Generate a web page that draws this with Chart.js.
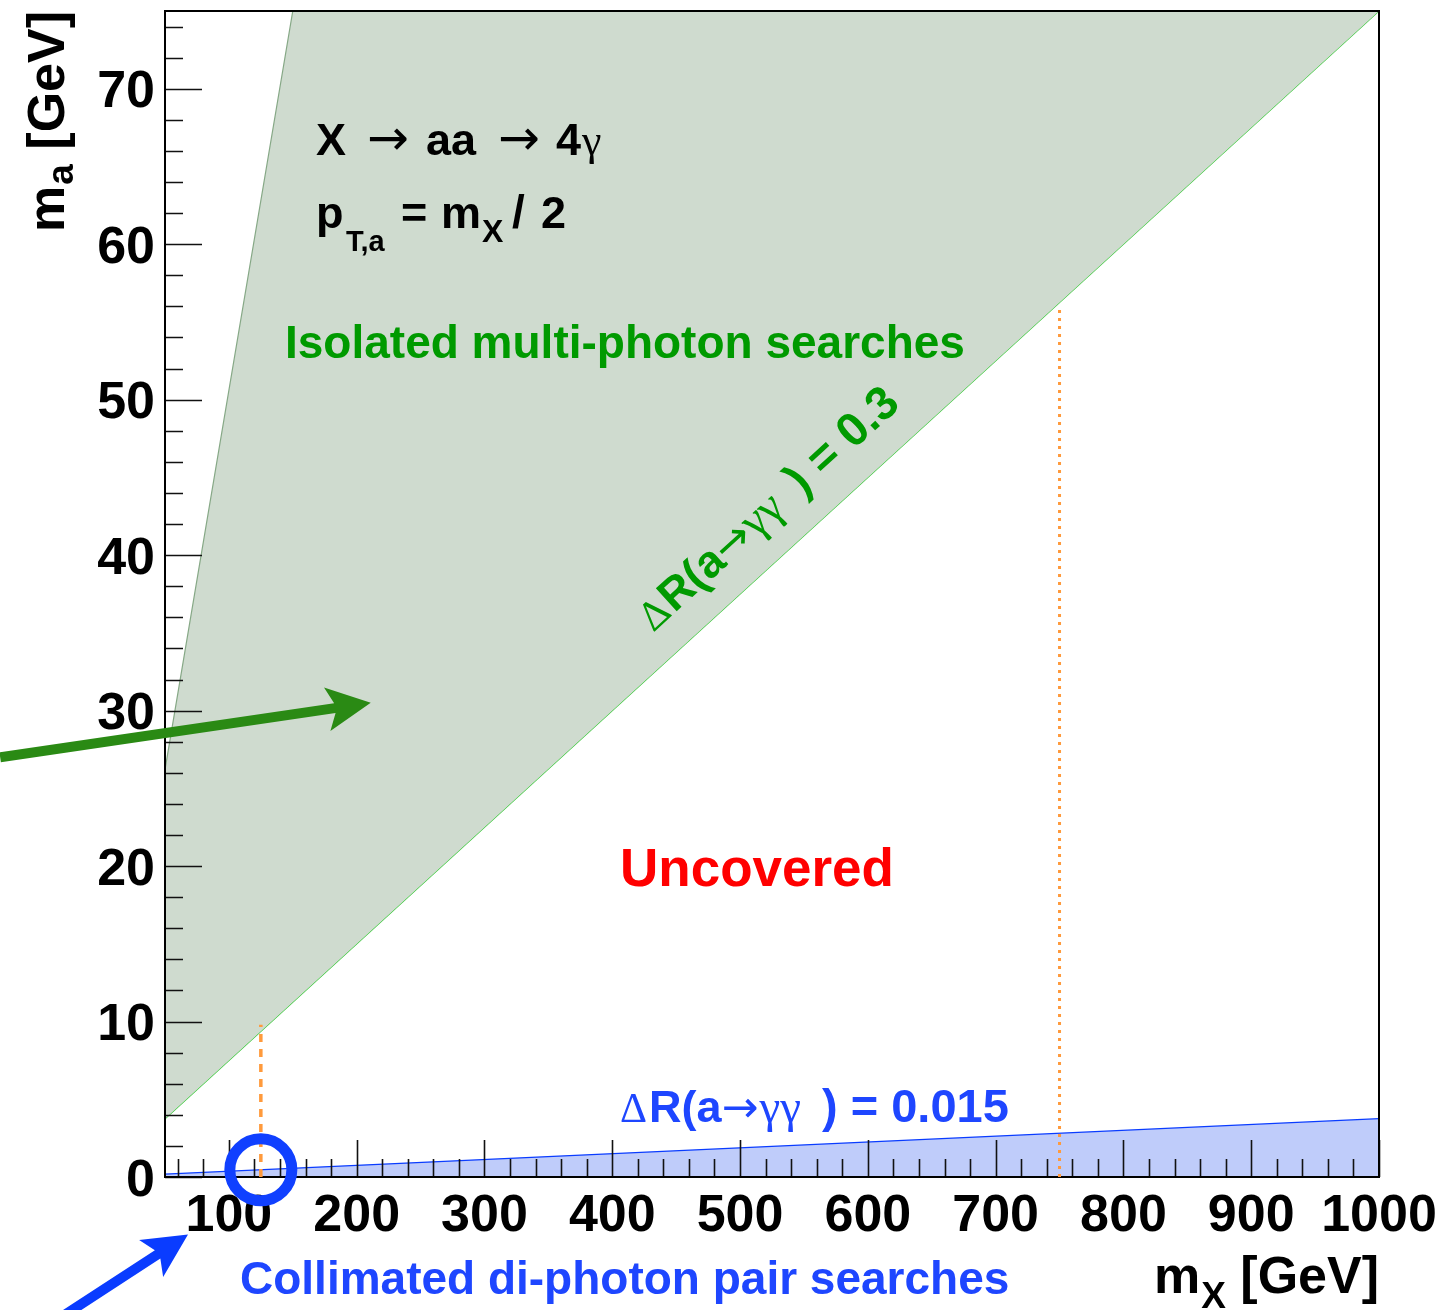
<!DOCTYPE html>
<html>
<head>
<meta charset="utf-8">
<title>X → aa → 4γ coverage</title>
<script src="https://cdn.jsdelivr.net/npm/chart.js@4/dist/chart.umd.min.js"></script>
<style>
  html, body { margin: 0; padding: 0; background: #fff; }
  canvas { display: block; }
</style>
</head>
<body>
<canvas id="c" width="1455" height="1310"></canvas>
<script>
// Axis ranges (m_X and m_a in GeV)
const mxRange = [50, 1000];
const maRange = [0, 75];

// Tick labels
const xTickLabels = ['100', '200', '300', '400', '500', '600', '700', '800', '900', '1000'];
const yTickLabels = ['0', '10', '20', '30', '40', '50', '60', '70'];

// ΔR(a→γγ) = 0.3 boundary
const wideMx = [50, 1000];
const wideMa = [3.75, 75];

// ΔR(a→γγ) = 0.015 boundary
const narrowMx = [50, 1000];
const narrowMa = [0.19, 3.75];

// Kinematic edge of the isolated region (upper left)
const edgeMx = [50, 150, 1000];
const edgeMa = [26.2, 75, 75];

// Reference masses marked with dotted lines
const refMx = [125, 750];
const refMaTop = [9.8, 55.9];

// Highlighted point near the 125 GeV resonance
const ringMx = [125];
const ringMa = [0.47];

// Pointer arrows (tail, head)
const greenArrowMx = [-79, 211];
const greenArrowMa = [27.0, 30.5];
const blueArrowMx = [-44, 68];
const blueArrowMa = [-9.7, -3.7];

const pts = (xs, ys) => xs.map((x, i) => ({ x, y: ys[i] }));

const BOLD = 'bold {s}px "Liberation Sans", Arial, Helvetica, sans-serif';
const ARROW = '{s}px "DejaVu Sans", sans-serif';
const SERIF = '{s}px "Liberation Serif", "Times New Roman", serif';
const f = (tpl, s) => tpl.replace('{s}', s);

const GREEN_TXT = '#009a00';
const BLUE_TXT = '#1e46ff';

// Draw a list of text pieces one after another along the baseline
function runWidth(ctx, runs) {
  let w = 0;
  for (const r of runs) { ctx.font = r.font; w += (r.pre || 0) + ctx.measureText(r.t).width; }
  return w;
}
function drawRuns(ctx, x, y, runs, color) {
  ctx.fillStyle = color;
  ctx.textBaseline = 'alphabetic';
  ctx.textAlign = 'left';
  let cx = x;
  for (const r of runs) {
    ctx.font = r.font;
    cx += r.pre || 0;
    ctx.fillText(r.t, cx, y + (r.dy || 0));
    cx += ctx.measureText(r.t).width;
  }
}

function drawArrow(ctx, x0, y0, x1, y1, color) {
  const shaft = 10, headLen = 44, headHalf = 22, notch = 10;
  const L = Math.hypot(x1 - x0, y1 - y0);
  const a = Math.atan2(y1 - y0, x1 - x0);
  const nx = -headLen + notch * (1 - (shaft / 2) / headHalf);
  ctx.save();
  ctx.translate(x1, y1);
  ctx.rotate(a);
  ctx.beginPath();
  ctx.moveTo(-L, -shaft / 2);
  ctx.lineTo(nx, -shaft / 2);
  ctx.lineTo(-headLen, -headHalf);
  ctx.lineTo(0, 0);
  ctx.lineTo(-headLen, headHalf);
  ctx.lineTo(nx, shaft / 2);
  ctx.lineTo(-L, shaft / 2);
  ctx.closePath();
  ctx.fillStyle = color;
  ctx.fill();
  ctx.restore();
}

const decor = {
  id: 'decor',
  beforeDraw(chart) {
    const c = chart.ctx;
    c.save();
    c.fillStyle = '#fff';
    c.fillRect(0, 0, chart.width, chart.height);
    c.restore();
  },
  // axes (frame, ticks, labels) go on top of the filled bands, below the markers
  afterDatasetDraw(chart, args) {
    if (args.index !== 3) return;
    const c = chart.ctx;
    const xs = chart.scales.x, ys = chart.scales.y;
    const A = chart.chartArea;
    c.save();
    c.strokeStyle = '#111';
    c.lineWidth = 1.6;
    c.beginPath();
    for (let v = maRange[0]; v < maRange[1]; v += 2) {
      const y = Math.round(ys.getPixelForValue(v)) + 0.5;
      const len = v % 10 === 0 ? 37 : 18;
      c.moveTo(A.left, y);
      c.lineTo(A.left + len, y);
    }
    for (let v = 60; v <= mxRange[1]; v += 20) {
      const x = Math.round(xs.getPixelForValue(v)) + 0.5;
      const len = v % 100 === 0 ? 37 : 18;
      c.moveTo(x, A.bottom);
      c.lineTo(x, A.bottom - len);
    }
    c.stroke();
    c.lineWidth = 2;
    c.strokeStyle = '#000';
    c.strokeRect(A.left, A.top, A.right - A.left, A.bottom - A.top);

    // tick labels
    c.fillStyle = '#000';
    c.font = f(BOLD, 52);
    c.textBaseline = 'alphabetic';
    c.textAlign = 'right';
    yTickLabels.forEach(t => {
      const y = ys.getPixelForValue(Number(t));
      c.fillText(t, A.left - 10, y + 18.5);
    });
    c.textAlign = 'center';
    xTickLabels.forEach(t => {
      const x = xs.getPixelForValue(Number(t));
      c.fillText(t, x, A.bottom + 54);
    });
    c.restore();
  },
  afterDraw(chart) {
    const c = chart.ctx;
    const xs = chart.scales.x, ys = chart.scales.y;
    const A = chart.chartArea;
    c.save();

    // axis titles
    const xTitle = [
      { t: 'm', font: f(BOLD, 52) },
      { t: 'X', font: f(BOLD, 37), dy: 15, pre: 1 },
      { t: ' [GeV]', font: f(BOLD, 52) }
    ];
    drawRuns(c, A.right - runWidth(c, xTitle), 1293, xTitle, '#000');

    const yTitle = [
      { t: 'm', font: f(BOLD, 52) },
      { t: 'a', font: f(BOLD, 37), dy: 9, pre: 1 },
      { t: ' [GeV]', font: f(BOLD, 52) }
    ];
    c.save();
    c.translate(64, A.top + runWidth(c, yTitle));
    c.rotate(-Math.PI / 2);
    drawRuns(c, 0, 0, yTitle, '#000');
    c.restore();

    // process and kinematics
    drawRuns(c, 316, 155, [{ t: 'X', font: f(BOLD, 45) }], '#000');
    drawRuns(c, 367, 155, [{ t: '→', font: f(ARROW, 50) }], '#000');
    drawRuns(c, 426, 155, [{ t: 'aa', font: f(BOLD, 45) }], '#000');
    drawRuns(c, 498, 155, [{ t: '→', font: f(ARROW, 50) }], '#000');
    drawRuns(c, 556, 155, [{ t: '4', font: f(BOLD, 45) }, { t: 'γ', font: f(SERIF, 44), pre: 1 }], '#000');

    drawRuns(c, 316, 228, [{ t: 'p', font: f(BOLD, 45) }], '#000');
    drawRuns(c, 346, 251, [{ t: 'T,a', font: f(BOLD, 29) }], '#000');
    drawRuns(c, 401, 228, [{ t: '=', font: f(BOLD, 45) }], '#000');
    drawRuns(c, 441, 228, [{ t: 'm', font: f(BOLD, 45) }], '#000');
    drawRuns(c, 482, 242, [{ t: 'X', font: f(BOLD, 32) }], '#000');
    drawRuns(c, 512, 228, [{ t: '/', font: f(BOLD, 46) }], '#000');
    drawRuns(c, 541, 228, [{ t: '2', font: f(BOLD, 45) }], '#000');

    // region labels
    drawRuns(c, 285, 358, [{ t: 'Isolated multi-photon searches', font: f(BOLD, 46) }], GREEN_TXT);
    drawRuns(c, 620, 886, [{ t: 'Uncovered', font: f(BOLD, 53) }], '#ff0000');
    drawRuns(c, 240, 1294, [{ t: 'Collimated di-photon pair searches', font: f(BOLD, 46) }], BLUE_TXT);

    const drRuns = (val) => [
      { t: 'Δ', font: f(SERIF, 42) },
      { t: 'R(a', font: f(BOLD, 45), pre: 2 },
      { t: '→', font: f(ARROW, 44), pre: 0 },
      { t: 'γγ', font: f(SERIF, 47), pre: 1 },
      { t: ' ) = ' + val, font: f(BOLD, 47), pre: 8 }
    ];
    drawRuns(c, 620, 1122, drRuns('0.015'), BLUE_TXT);

    // ΔR = 0.3 label runs along its boundary line
    const px0 = xs.getPixelForValue(wideMx[0]), py0 = ys.getPixelForValue(wideMa[0]);
    const px1 = xs.getPixelForValue(wideMx[1]), py1 = ys.getPixelForValue(wideMa[1]);
    const ang = Math.atan2(py1 - py0, px1 - px0);
    c.save();
    c.translate(xs.getPixelForValue(432), ys.getPixelForValue(35.0));
    c.rotate(ang);
    drawRuns(c, 0, 0, drRuns('0.3'), GREEN_TXT);
    c.restore();

    // pointer arrows
    drawArrow(c, xs.getPixelForValue(greenArrowMx[0]), ys.getPixelForValue(greenArrowMa[0]),
      xs.getPixelForValue(greenArrowMx[1]), ys.getPixelForValue(greenArrowMa[1]), '#2a8a14');
    drawArrow(c, xs.getPixelForValue(blueArrowMx[0]), ys.getPixelForValue(blueArrowMa[0]),
      xs.getPixelForValue(blueArrowMx[1]), ys.getPixelForValue(blueArrowMa[1]), '#0a3cff');

    c.restore();
  }
};

new Chart(document.getElementById('c'), {
  type: 'scatter',
  data: {
    datasets: [
      { // 0: ring marker
        data: pts(ringMx, ringMa),
        pointRadius: 31, pointHoverRadius: 31,
        pointBorderWidth: 11, pointBorderColor: '#1040ff',
        pointBackgroundColor: 'rgba(0,0,0,0)',
        clip: false
      },
      { // 1: dotted line at 125 GeV
        data: pts([refMx[0], refMx[0]], [0, refMaTop[0]]),
        showLine: true, pointRadius: 0, borderColor: '#ff9a3c',
        borderWidth: 3.5, borderDash: [8, 7], fill: false
      },
      { // 2: dotted line at 750 GeV
        data: pts([refMx[1], refMx[1]], [0, refMaTop[1]]),
        showLine: true, pointRadius: 0, borderColor: '#ff9a3c',
        borderWidth: 3, borderDash: [3, 5], fill: false
      },
      { // 3: collimated band, ΔR = 0.015
        data: pts(narrowMx, narrowMa),
        showLine: true, pointRadius: 0, borderColor: '#0a3cff',
        borderWidth: 1.2, backgroundColor: '#bfccfa', fill: 'origin'
      },
      { // 4: isolated region upper edge, filled down to ΔR = 0.3
        data: pts(edgeMx, edgeMa),
        showLine: true, pointRadius: 0, borderColor: '#86a886',
        borderWidth: 1.2, backgroundColor: '#cfdbcf', fill: '+1'
      },
      { // 5: ΔR = 0.3 line
        data: pts(wideMx, wideMa),
        showLine: true, pointRadius: 0, borderColor: '#33c833',
        borderWidth: 1.2, fill: false
      }
    ]
  },
  options: {
    responsive: false,
    devicePixelRatio: 1,
    animation: false,
    events: [],
    layout: { autoPadding: false, padding: { left: 165, right: 76, top: 11, bottom: 133 } },
    plugins: { legend: { display: false }, tooltip: { enabled: false } },
    scales: {
      x: { type: 'linear', min: mxRange[0], max: mxRange[1], display: false },
      y: { type: 'linear', min: maRange[0], max: maRange[1], display: false }
    }
  },
  plugins: [decor]
});
</script>
</body>
</html>
